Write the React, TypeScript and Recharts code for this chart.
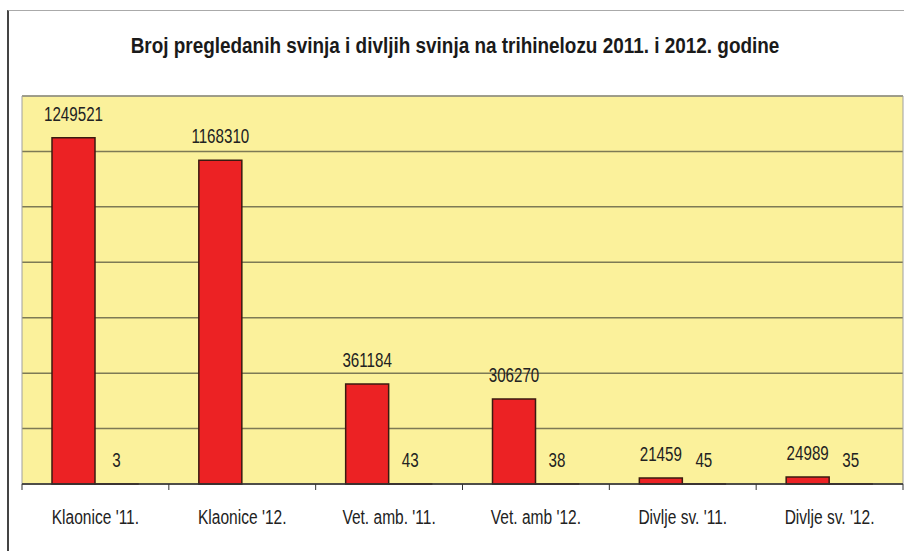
import React from 'react';
import {
  BarChart, Bar, XAxis, YAxis, CartesianGrid, LabelList, ReferenceArea,
} from 'recharts';

const categories = ['Klaonice \'11.', 'Klaonice \'12.', 'Vet. amb. \'11.', 'Vet. amb \'12.', 'Divlje sv. \'11.', 'Divlje sv. \'12.'];
const examined = [1249521, 1168310, 361184, 306270, 21459, 24989];
const positive = [3, 0, 43, 38, 45, 35];
const yTicks = [0, 200000, 400000, 600000, 800000, 1000000, 1200000, 1400000];

const data = categories.map((name, i) => ({ name, examined: examined[i], positive: positive[i] }));

// no narrow font installed, so squeeze Liberation Sans horizontally
const FONT = '"Liberation Sans", Arial, sans-serif';
const PLOT_W = 904 - 22 - 1;

const CategoryTick = (props: any) => {
  const { x, y, payload, index } = props;
  const half = payload?.offset || PLOT_W / categories.length / 2;
  return (
    <g>
      <line x1={x - half} y1={y} x2={x - half} y2={y + 6} stroke="#333" strokeWidth={1} />
      {index === categories.length - 1 && (
        <line x1={x + half} y1={y} x2={x + half} y2={y + 6} stroke="#333" strokeWidth={1} />
      )}
      <text transform={`translate(${x},${y + 40}) scale(0.74,1)`} textAnchor="middle" fill="#222" fontSize={21} fontFamily={FONT}>
        {payload.value}
      </text>
    </g>
  );
};

const ValueLabel = (props: any) => {
  const { x, y, width, value } = props;
  const cx = Number(x) + Number(width) / 2;
  return (
    <text transform={`translate(${cx},${Number(y) - 17}) scale(0.74,1)`} textAnchor="middle" fill="#222" fontSize={20.5} fontFamily={FONT}>
      {value}
    </text>
  );
};

export default function App() {
  return (
    <div style={{ position: 'absolute', left: 0, top: 0, width: 904, height: 551, background: '#fff', overflow: 'hidden' }}>
      <div style={{
        position: 'absolute', left: 7, top: 10, width: 910, height: 560,
        borderLeft: '2px solid #444', borderTop: '1px solid #aaa', boxSizing: 'border-box',
      }} />
      <div style={{
        position: 'absolute', left: 0, top: 33, width: 910, textAlign: 'center',
        fontFamily: FONT, fontWeight: 'bold', fontSize: 22, color: '#1a1a1a',
        transform: 'scaleX(0.86)', transformOrigin: '455px 0', whiteSpace: 'nowrap',
      }}>
        Broj pregledanih svinja i divljih svinja na trihinelozu 2011. i 2012. godine
      </div>
      <BarChart
        width={904}
        height={551}
        data={data}
        margin={{ top: 96, right: 1, left: 22, bottom: 27 }}
        barGap={0}
        barCategoryGap="20%"
        style={{ position: 'absolute', left: 0, top: 0 }}
      >
        <CartesianGrid vertical={false} stroke="#7d7a55" strokeWidth={1.5} fill="#fbf19b" fillOpacity={1} />
        <ReferenceArea y1={0} y2={1400000} fill="none" stroke="#a0a0a0" strokeWidth={1} ifOverflow="visible" />
        <YAxis hide domain={[0, 1400000]} ticks={yTicks} />
        <XAxis
          dataKey="name"
          height={40}
          tickSize={0}
          tickMargin={0}
          tickLine={false}
          axisLine={{ stroke: '#333', strokeWidth: 1.5 }}
          tick={<CategoryTick />}
          interval={0}
        />
        <Bar dataKey="examined" fill="#ec2224" stroke="#3a1a10" strokeWidth={1.5} barSize={43} isAnimationActive={false}>
          <LabelList dataKey="examined" content={<ValueLabel />} />
        </Bar>
        <Bar dataKey="positive" fill="#ec2224" stroke="#3a1a10" strokeWidth={1.5} barSize={43} isAnimationActive={false}>
          <LabelList dataKey="positive" content={<ValueLabel />} />
        </Bar>
      </BarChart>
    </div>
  );
}
